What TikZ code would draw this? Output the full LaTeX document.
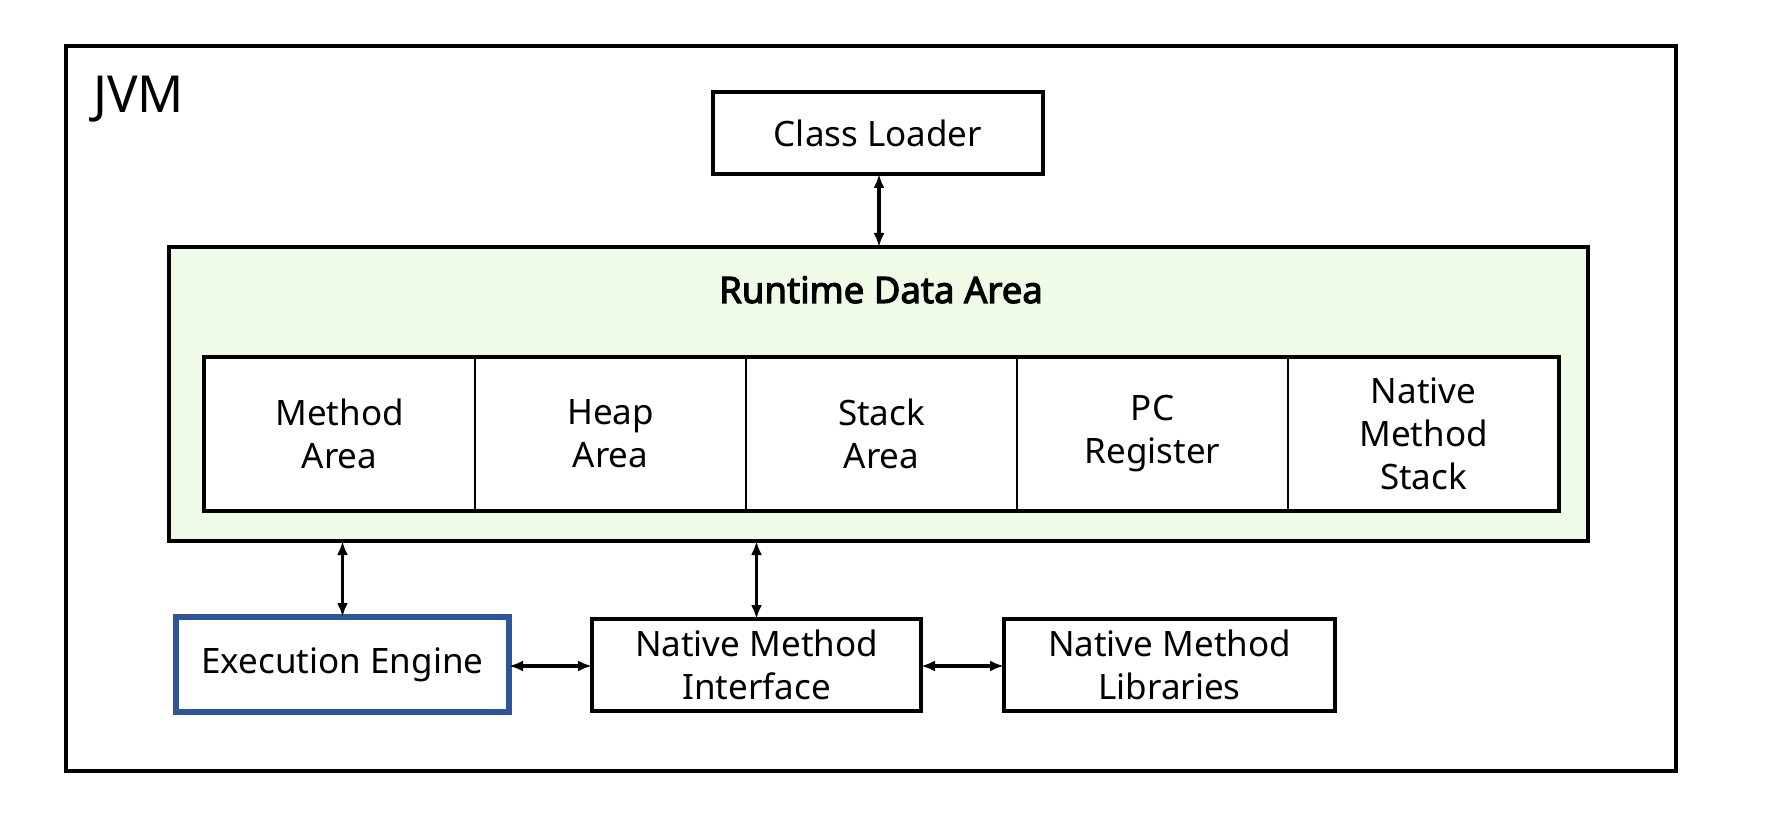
\documentclass[tikz,border=0pt]{standalone}
\usepackage{fontspec}
\setmainfont{Noto Sans}
\newfontfamily\rdafont{Noto Sans}[FakeBold=3]
\usetikzlibrary{arrows.meta}
\definecolor{rdafill}{HTML}{EFFBE6}
\definecolor{eeblue}{HTML}{2F5597}
\begin{document}
\begin{tikzpicture}[x=1pt,y=-1pt,
  box/.style={draw=black, line width=3.3pt, inner sep=0pt, outer sep=0pt, align=center,
    font=\fontsize{35}{43}\selectfont},
  cell/.style={draw=black, line width=2pt, inner sep=0pt, outer sep=0pt, align=center,
    minimum width=271pt, minimum height=154pt, font=\fontsize{35}{43}\selectfont},
  conn/.style={line width=3.2pt, {Latex[length=14pt,width=11pt]}-{Latex[length=14pt,width=11pt]}}
]
\useasboundingbox (0,0) rectangle (1770,818);
\fill[white] (0,0) rectangle (1770,818);
% JVM outer box
\node[box, minimum width=1610pt, minimum height=725pt] (jvm) at (871,408.5) {};
\node[anchor=base west, inner sep=0pt, font=\fontsize{51}{54}\selectfont] (jvmlabel) at (93,113) {JVM};
% Class loader
\node[box, minimum width=330pt, minimum height=82pt] (cl) at (878,133) {Class Loader};
% Runtime data area
\node[box, fill=rdafill, minimum width=1419pt, minimum height=294pt] (rda) at (878.5,394) {};
\node[anchor=base, inner sep=0pt, font=\fontsize{36.5}{40}\rdafont] (rdalabel) at (881,303) {Runtime Data Area};
% cells
\node[cell, fill=white] (c1) at (339.5,434) {Method\\Area};
\node[cell, fill=white] (c2) at (610.5,434) {Heap\\Area};
\node[cell, fill=white] (c3) at (881.5,434) {Stack\\Area};
\node[cell, fill=white] (c4) at (1152.5,434) {PC\\Register};
\node[cell, fill=white] (c5) at (1423.5,434) {Native\\Method\\Stack};
\draw[line width=3.3pt] (c1.north west) rectangle (c5.south east);
% bottom boxes
\node[box, draw=eeblue, line width=5.5pt, minimum width=333pt, minimum height=95pt] (ee) at (342.5,664.5) {Execution Engine};
\node[box, minimum width=329pt, minimum height=92pt] (nmi) at (756.5,665) {Native Method\\Interface};
\node[box, minimum width=331pt, minimum height=92pt] (nml) at (1169.5,665) {Native Method\\Libraries};
% connectors
\draw[conn] (cl.south -| 879,0) -- (rda.north -| 879,0);
\draw[conn] (rda.south -| ee.north) -- (ee.north);
\draw[conn] (rda.south -| nmi.north) -- (nmi.north);
\draw[conn] (ee.east |- 0,666) -- (nmi.west |- 0,666);
\draw[conn] (nmi.east |- 0,666) -- (nml.west |- 0,666);
\end{tikzpicture}
\end{document}
